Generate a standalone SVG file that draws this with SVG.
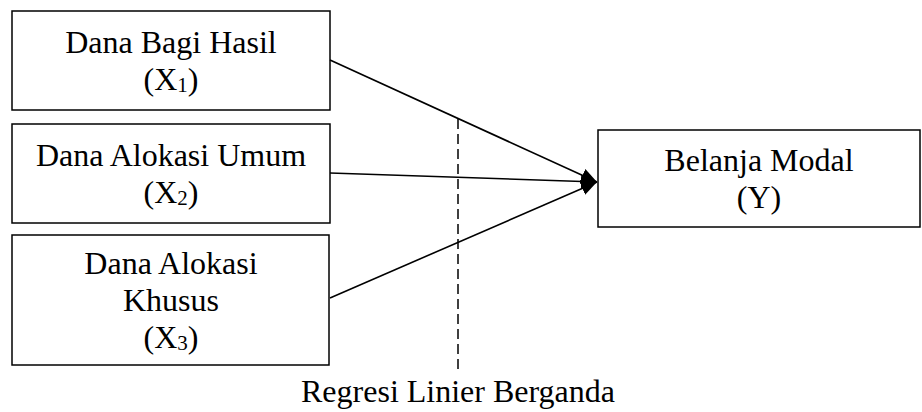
<svg xmlns="http://www.w3.org/2000/svg" width="922" height="412" viewBox="0 0 922 412">
<style>
.box{fill:#fff;stroke:#000;stroke-width:1.5}
.t{font-family:"Liberation Serif","Times New Roman",serif;font-size:32px;fill:#000;text-anchor:middle}
.sub{font-size:21px}
.con{stroke:#000;stroke-width:1.6;fill:none}
.dash{stroke:#000;stroke-width:1.5;stroke-dasharray:10,5;fill:none}
</style>
<defs>
<marker id="ah" markerUnits="userSpaceOnUse" markerWidth="17" markerHeight="16" refX="16" refY="8" orient="auto">
<path d="M0,1 L16,8 L0,15 Z" fill="#000"/>
</marker>
</defs>
<rect width="922" height="412" fill="#fff"/>
<g id="node-x1">
<rect class="box" x="12" y="11" width="318" height="99"/>
<text class="t" x="171" y="53">Dana Bagi Hasil</text>
<text class="t" x="171" y="90">(X<tspan class="sub" dy="2">1</tspan><tspan dy="-2">)</tspan></text>
</g>
<g id="node-x2">
<rect class="box" x="12" y="124" width="318" height="99"/>
<text class="t" x="171" y="166">Dana Alokasi Umum</text>
<text class="t" x="171" y="203">(X<tspan class="sub" dy="2">2</tspan><tspan dy="-2">)</tspan></text>
</g>
<g id="node-x3">
<rect class="box" x="12" y="235" width="317" height="130"/>
<text class="t" x="171" y="274">Dana Alokasi</text>
<text class="t" x="171" y="311">Khusus</text>
<text class="t" x="171" y="348">(X<tspan class="sub" dy="2">3</tspan><tspan dy="-2">)</tspan></text>
</g>
<g id="node-y">
<rect class="box" x="598" y="130" width="322" height="97"/>
<text class="t" x="759" y="171">Belanja Modal</text>
<text class="t" x="759" y="208">(Y)</text>
</g>
<g id="connectors">
<line class="con" x1="330" y1="60" x2="597" y2="182" marker-end="url(#ah)"/>
<line class="con" x1="330" y1="173" x2="597" y2="182" marker-end="url(#ah)"/>
<line class="con" x1="330" y1="298" x2="597" y2="182" marker-end="url(#ah)"/>
<line class="dash" x1="458" y1="119" x2="458" y2="370"/>
</g>
<g id="label-regresi">
<text class="t" x="458" y="402">Regresi Linier Berganda</text>
</g>
</svg>
